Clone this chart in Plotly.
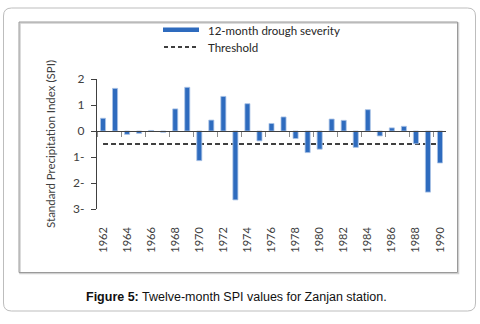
import plotly.graph_objects as go

years = [str(y) for y in range(1962, 1991)]
spi = [0.49, 1.64, -0.13, -0.09, 0.02, -0.05, 0.85, 1.68, -1.14, 0.42, 1.33, -2.65,
       1.05, -0.38, 0.29, 0.54, -0.29, -0.83, -0.70, 0.46, 0.41, -0.63, 0.82, -0.19,
       0.12, 0.18, -0.49, -2.35, -1.23]
threshold = [-0.5] * len(years)
x_tick_labels = [str(y) for y in range(1962, 1991, 2)]
y_tick_vals = [-3, -2, -1, 0, 1, 2]
y_tick_text = ["3-", "2-", "1-", "0", "1", "2"]

W, H = 480, 324
L, R, T, B = 97, 446, 79, 209
def px(x):
    return (x - L) / (R - L)
def py(y):
    return (B - y) / (B - T)

BAR = "#2E6BBE"
FONT = "Lato"

fig = go.Figure()
fig.add_trace(go.Bar(x=years, y=spi, xaxis="x2", yaxis="y", width=0.42,
                     marker=dict(color=BAR, line=dict(color="#A9C3E6", width=0.8)),
                     name="12-month drough severity", showlegend=False))
fig.add_trace(go.Scatter(x=years, y=threshold, xaxis="x", yaxis="y", mode="lines",
                         line=dict(color="black", width=1.6, dash="5px,3px"),
                         name="Threshold", showlegend=False))

shapes = []
def rrect(x0, y0, x1, y1, r):
    rx = r / (R - L); ry = r / (B - T)
    X0, X1 = px(x0), px(x1); Y0, Y1 = py(y1), py(y0)
    return (f"M {X0+rx},{Y1} L {X1-rx},{Y1} Q {X1},{Y1} {X1},{Y1-ry} "
            f"L {X1},{Y0+ry} Q {X1},{Y0} {X1-rx},{Y0} L {X0+rx},{Y0} "
            f"Q {X0},{Y0} {X0},{Y0+ry} L {X0},{Y1-ry} Q {X0},{Y1} {X0+rx},{Y1} Z")
shapes.append(dict(type="path", xref="paper", yref="paper",
                   path=rrect(3.5, 8, 475.5, 311, 8),
                   line=dict(color="#BDBDBD", width=1)))
shapes.append(dict(type="rect", xref="paper", yref="paper",
                   x0=px(20), x1=px(458.5), y0=py(273.5), y1=py(23),
                   line=dict(color="#D0D0D0", width=1.5)))
shapes.append(dict(type="rect", xref="paper", yref="paper",
                   x0=px(19), x1=px(457.5), y0=py(272.5), y1=py(22),
                   line=dict(color="#9A9A9A", width=1), fillcolor="rgba(0,0,0,0)"))
shapes.append(dict(type="rect", xref="paper", yref="paper",
                   x0=px(163), x1=px(199), y0=py(32), y1=py(27.5),
                   line=dict(width=0), fillcolor=BAR))
shapes.append(dict(type="line", xref="paper", yref="paper",
                   x0=px(164), x1=px(199), y0=py(47), y1=py(47),
                   line=dict(color="black", width=1.4, dash="4px,3px")))

annotations = [
    dict(text="12-month drough severity", xref="paper", yref="paper",
         x=px(206), y=py(30), xanchor="left", yanchor="middle", showarrow=False,
         font=dict(family=FONT, size=11.5, color="#262626")),
    dict(text="Threshold", xref="paper", yref="paper",
         x=px(206), y=py(47), xanchor="left", yanchor="middle", showarrow=False,
         font=dict(family=FONT, size=11.5, color="#262626")),
    dict(text="<b>Figure 5:</b> Twelve-month SPI values for Zanjan station.",
         xref="paper", yref="paper", x=px(84), y=py(297), xanchor="left",
         yanchor="middle", showarrow=False,
         font=dict(family="Liberation Sans", size=12.5, color="#111111")),
]

fig.update_layout(
    width=W, height=H, margin=dict(l=L, r=W - R, t=T, b=H - B, autoexpand=False),
    paper_bgcolor="white", plot_bgcolor="white",
    showlegend=False, bargap=0.5,
    shapes=shapes, annotations=annotations,
    xaxis=dict(type="category", categoryorder="array", categoryarray=years,
               range=[-0.5, len(years) - 0.5], showline=False, ticks="",
               tickvals=x_tick_labels, ticktext=x_tick_labels, tickangle=-90,
               ticklabelstandoff=15, showgrid=False, zeroline=False, automargin=False,
               tickfont=dict(family=FONT, size=11, color="#404040")),
    xaxis2=dict(type="category", categoryorder="array", categoryarray=years,
                range=[-0.5, len(years) - 0.5], overlaying="x", anchor="free",
                position=0.6, side="bottom", showline=True, linecolor="#404040",
                linewidth=1.2, ticks="outside", tickson="boundaries", ticklen=5,
                tickcolor="#8C8C8C", tickwidth=1, showticklabels=False,
                showgrid=False, zeroline=False, automargin=False),
    yaxis=dict(range=[-3, 2], tickvals=y_tick_vals, ticktext=y_tick_text,
               showline=True, linecolor="#404040", linewidth=1.2, ticks="outside",
               ticklen=5, tickcolor="#404040", showgrid=False, zeroline=False,
               automargin=False, ticklabelstandoff=4,
               tickfont=dict(family=FONT, size=12, color="#404040"),
               title=dict(text="Standard Precipitation Index (SPI)", standoff=15,
                          font=dict(family=FONT, size=11.5, color="#404040"))),
)

fig.write_html("out.html", config={"displayModeBar": False},
               post_script="document.body.style.margin='0';")
